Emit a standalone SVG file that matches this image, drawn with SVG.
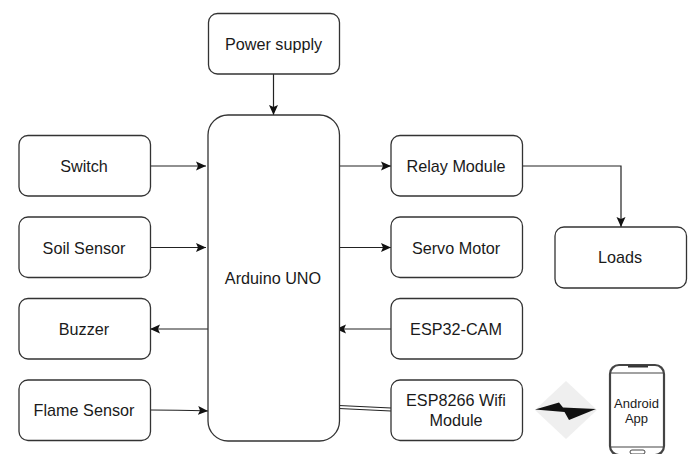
<svg xmlns="http://www.w3.org/2000/svg" width="691" height="454" viewBox="0 0 691 454">
<style>
text{font-family:"Liberation Sans",Arial,sans-serif;font-size:16.200px;fill:#1a1a1a;text-anchor:middle}
.n{fill:#fff;stroke:#333;stroke-width:1.3}
.c{fill:none;stroke:#222;stroke-width:1.2}
.a{marker-end:url(#ah)}
</style>
<defs><marker id="ah" markerUnits="userSpaceOnUse" markerWidth="11" markerHeight="12" refX="10" refY="6" orient="auto"><path d="M0 1.500 L10 6 L0 10.500 L2 6Z" fill="#111"/></marker></defs>
<rect width="691" height="454" fill="#fff"/>
<g id="connectors">
<path class="c a" d="M273.500 74V115"/>
<path class="c a" d="M151 166H206"/>
<path class="c a" d="M151 247.500H206"/>
<path class="c a" d="M208 329H150"/>
<path class="c a" d="M151 410C170 410 190 410 208 411"/>
<path class="c a" d="M340 166H391"/>
<path class="c a" d="M340 247.500H391"/>
<path class="c a" d="M391 329H336"/>
<path class="c a" d="M523 166H621V227"/>
<path class="c" d="M339 405.500L391 408M339 408.500L391 411"/>
</g>
<g id="power"><rect class="n" x="208.500" y="13.500" width="131" height="60.500" rx="9"/><text x="273.500" y="49.500">Power supply</text></g>
<g id="arduino"><rect class="n" x="208" y="115" width="131.500" height="326" rx="20"/><text x="273" y="283.500">Arduino UNO</text></g>
<g id="switch"><rect class="n" x="19" y="135.500" width="131.500" height="60.500" rx="9"/><text x="84" y="171.500">Switch</text></g>
<g id="soil"><rect class="n" x="19" y="217" width="131.500" height="60.500" rx="9"/><text x="84" y="253.500">Soil Sensor</text></g>
<g id="buzzer"><rect class="n" x="19" y="298.500" width="131.500" height="60.500" rx="9"/><text x="84" y="334.500">Buzzer</text></g>
<g id="flame"><rect class="n" x="19" y="380" width="131.500" height="60.500" rx="9"/><text x="84" y="416">Flame Sensor</text></g>
<g id="relay"><rect class="n" x="391" y="135.500" width="131.500" height="60.500" rx="9"/><text x="456" y="171.500">Relay Module</text></g>
<g id="servo"><rect class="n" x="391" y="217" width="131.500" height="60.500" rx="9"/><text x="456" y="253.500">Servo Motor</text></g>
<g id="cam"><rect class="n" x="391" y="298.500" width="131.500" height="60.500" rx="9"/><text x="456" y="334.500">ESP32-CAM</text></g>
<g id="esp8266"><rect class="n" x="391" y="380" width="131.500" height="60.500" rx="9"/><text x="456" y="406">ESP8266 Wifi</text><text x="456" y="426">Module</text></g>
<g id="loads"><rect class="n" x="555" y="227" width="131.500" height="61" rx="9"/><text x="620" y="263">Loads</text></g>
<g id="wireless">
<path d="M566 381L597 410L566 439L535 410Z" fill="#efefef"/>
<path d="M535 409.500L559 402.500L563 407.500L596 409L569 420L564.500 412Z" fill="#111"/>
</g>
<g id="android">
<rect x="610" y="365" width="54" height="90" rx="9" fill="#fff" stroke="#444" stroke-width="2.200"/>
<path d="M611 373H664M611 447H664" fill="none" stroke="#444" stroke-width="1.200"/>
<path d="M628 366.500H648" stroke="#333" stroke-width="2"/>
<rect x="630" y="450" width="15" height="4" rx="2" fill="none" stroke="#444"/>
<text x="636.500" y="408" style="font-size:13px">Android</text>
<text x="636.500" y="422.500" style="font-size:13px">App</text>
</g>
</svg>
